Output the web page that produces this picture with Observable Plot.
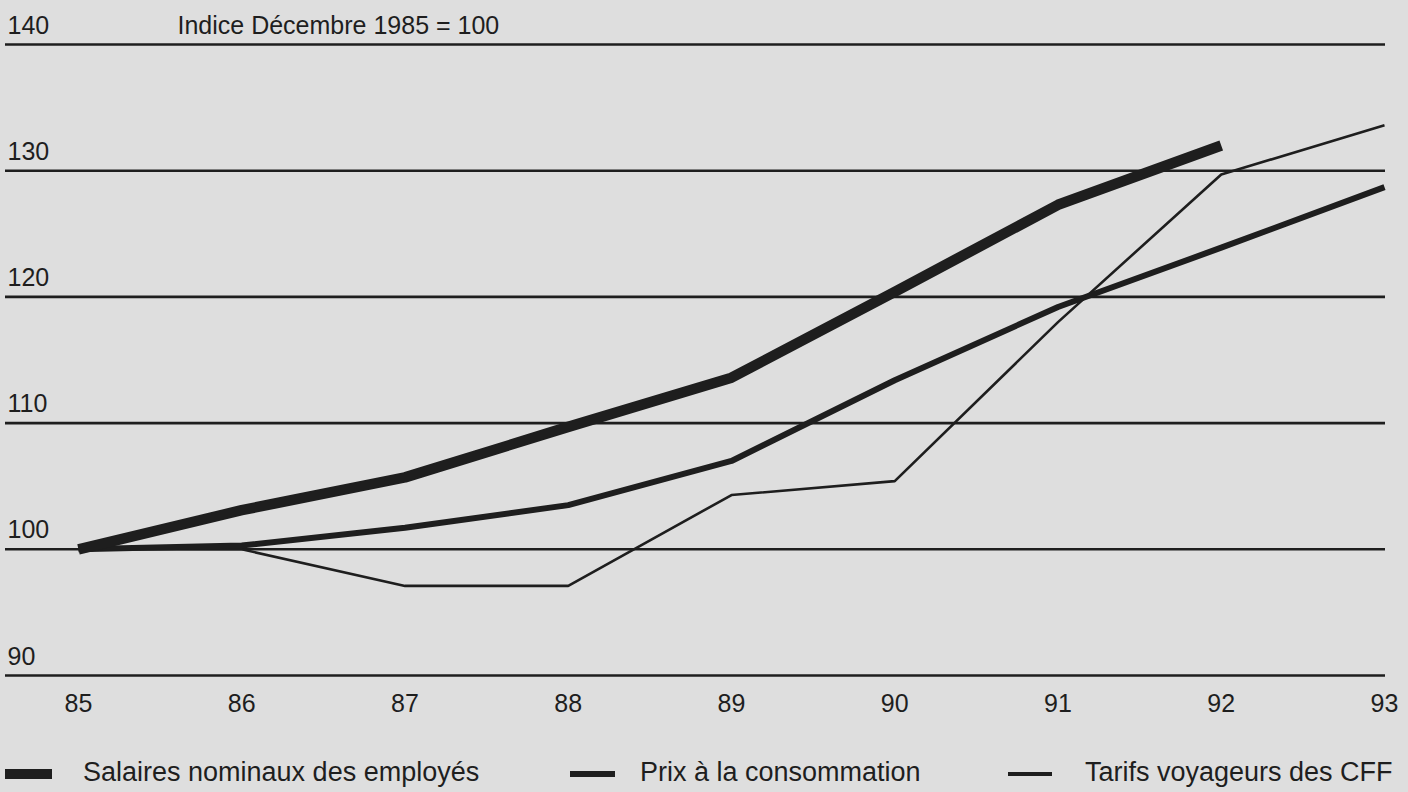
<!DOCTYPE html>
<html>
<head>
<meta charset="utf-8">
<script src="https://cdn.jsdelivr.net/npm/d3@7"></script>
<script src="https://cdn.jsdelivr.net/npm/@observablehq/plot@0.6"></script>
<style>
  html, body { margin: 0; padding: 0; background: #dedede; }
  body { width: 1408px; height: 792px; overflow: hidden; font-family: "Liberation Sans", Arial, sans-serif; color: #1e1e1e; }
  #legend { position: relative; height: 62px; }
  .item { position: absolute; top: 29px; font-size: 27px; line-height: 27px; white-space: nowrap; }
  .sw { position: absolute; background: #1e1e1e; }
</style>
</head>
<body>
<div id="chart"></div>
<div id="legend"></div>
<script>
// ---- data ----
const years = [85, 86, 87, 88, 89, 90, 91, 92, 93];
const xTickLabels = ["85", "86", "87", "88", "89", "90", "91", "92", "93"];
const yTicks = [90, 100, 110, 120, 130, 140];
const yTickLabels = ["90", "100", "110", "120", "130", "140"];
const unitNote = "Indice Décembre 1985 = 100";
const seriesNames = ["Salaires nominaux des employés", "Prix à la consommation", "Tarifs voyageurs des CFF"];
const salaires = [100, 103.1, 105.7, 109.7, 113.6, 120.4, 127.3, 132.0];       // 85–92
const prix     = [100, 100.3, 101.7, 103.5, 107.0, 113.4, 119.2, 123.9, 128.7]; // 85–93
const tarifs   = [100, 100.0, 97.1, 97.1, 104.3, 105.4, 118.0, 129.7, 133.6];   // 85–93

// ---- styles (kept apart from data) ----
const ink = "#1e1e1e";
const widths = [10.5, 6, 2.6];
const font = "'Liberation Sans', Arial, sans-serif";

const seriesValues = [salaires, prix, tarifs];
const rows = [];
seriesValues.forEach((vals, s) => {
  vals.forEach((v, i) => rows.push({series: seriesNames[s], year: years[i], value: v}));
});

const lineMarks = [2, 1, 0].map(s =>
  Plot.line(rows.filter(r => r.series === seriesNames[s]), {
    x: "year", y: "value",
    stroke: ink, strokeWidth: widths[s],
    strokeLinejoin: "round", strokeLinecap: "butt"
  })
);

const chart = Plot.plot({
  width: 1408,
  height: 730,
  marginLeft: 78,
  marginRight: 24,
  marginTop: 44,
  marginBottom: 55,
  style: {background: "transparent", fontFamily: font, fontSize: "25px", color: ink},
  x: {domain: [85, 93], axis: null},
  y: {domain: [90, 140], axis: null},
  marks: [
    Plot.ruleY(yTicks, {stroke: ink, strokeWidth: 2.6, insetLeft: -73, insetRight: -1}),
    Plot.text(yTicks, {
      y: d => d, text: (d, i) => yTickLabels[i],
      frameAnchor: "left", dx: -71, dy: -11,
      textAnchor: "start", lineAnchor: "bottom",
      fontSize: 25, fill: ink
    }),
    Plot.text([unitNote], {
      y: [140], text: d => d,
      frameAnchor: "left", dx: 99, dy: -11,
      textAnchor: "start", lineAnchor: "bottom",
      fontSize: 25, fill: ink
    }),
    ...lineMarks,
    Plot.axisX(years, {
      tickSize: 0, tickPadding: 19, label: null,
      tickFormat: d => xTickLabels[years.indexOf(d)],
      fontSize: 25, fill: ink
    })
  ]
});
document.getElementById("chart").appendChild(chart);

// ---- legend (HTML, below the SVG) ----
const legendLayout = [
  {sw: [5, 47, 10], text: 83},
  {sw: [570, 45, 6], text: 640},
  {sw: [1008, 44, 4], text: 1085}
];
const legend = document.getElementById("legend");
seriesNames.forEach((name, i) => {
  const L = legendLayout[i];
  const sw = document.createElement("div");
  sw.className = "sw";
  sw.style.left = L.sw[0] + "px";
  sw.style.width = L.sw[1] + "px";
  sw.style.height = L.sw[2] + "px";
  sw.style.top = (44 - L.sw[2] / 2) + "px";
  legend.appendChild(sw);
  const t = document.createElement("div");
  t.className = "item";
  t.style.left = L.text + "px";
  t.textContent = name;
  legend.appendChild(t);
});
</script>
</body>
</html>
